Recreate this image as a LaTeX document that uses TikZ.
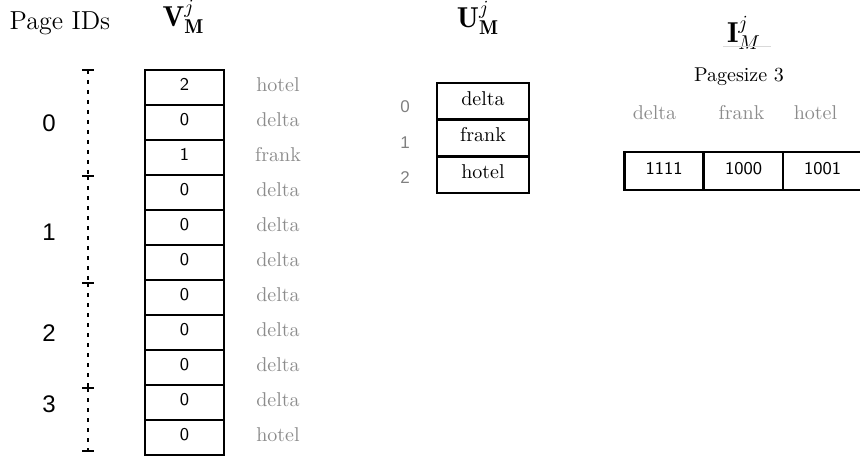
\documentclass[tikz,border=0pt]{standalone}
\usepackage{fontspec}
\newfontfamily\idfont{Liberation Sans}
\begin{document}
\begin{tikzpicture}[x=0.5pt,y=-0.5pt,
  cellbox/.style={draw, line width=1.3pt, inner sep=0pt,
    font=\sffamily\fontsize{9}{10}\selectfont, text height=6.4pt, text depth=3pt},
  vcell/.style={cellbox, minimum width=39.5pt, minimum height=17.5pt},
  icell/.style={cellbox, minimum width=39.5pt, minimum height=19pt},
  ucell/.style={draw, line width=1.3pt, inner sep=0pt, minimum width=46pt,
    minimum height=18.33pt, font=\fontsize{10}{12}\selectfont,
    text height=7pt, text depth=3pt},
  glabel/.style={anchor=base, inner sep=0pt, text=black!45,
    font=\fontsize{10}{12}\selectfont},
  title/.style={anchor=base, inner sep=0pt, font=\fontsize{14.4}{16}\selectfont},
  pageid/.style={anchor=base, inner sep=0pt, font=\idfont\fontsize{12}{14}\selectfont},
  uindex/.style={anchor=base, inner sep=0pt, text=black!50,
    font=\idfont\fontsize{8.5}{10}\selectfont},
  pagerange/.style={line width=1.3pt, dash pattern=on 2pt off 3pt},
  pagetick/.style={line width=1.3pt},
]
\useasboundingbox (0,0) rectangle (860,459);

% headings
\node[anchor=base, inner sep=0pt, font=\fontsize{13}{15}\selectfont] (pid) at (60,30) {Page IDs};
\node[title] (vt) at (183.5,27) {$\mathbf{V}^{j}_{\mathbf{M}}$};
\node[title] (ut) at (478,28) {$\mathbf{U}^{j}_{\mathbf{M}}$};
\node[title] (it) at (744,43) {$\mathbf{I}^{j}_{M}$};
\draw[black!15, line width=0.4pt] (723,46) -- (771,46);

% value column with its words
\foreach \d/\w [count=\i from 0] in {2/hotel,0/delta,1/frank,0/delta,0/delta,0/delta,0/delta,0/delta,0/delta,0/delta,0/hotel} {
  \node[vcell] (v\i) at (184.5,{87.5+35*\i}) {\d};
  \node[glabel] (vw\i) at (278,{91.5+35*\i}) {\w};
}

% page ranges
\coordinate (p0) at (88,70);
\coordinate (p1) at (88,176);
\coordinate (p2) at (88,283);
\coordinate (p3) at (88,388);
\coordinate (p4) at (88,451);
\draw[pagerange] (p0) -- (p1);
\draw[pagerange] (p1) -- (p2);
\draw[pagerange] (p2) -- (p3);
\draw[pagerange] (p3) -- (p4);
\foreach \p in {p0,p1,p2,p3,p4}
  \draw[pagetick] ([xshift=-2.8pt]\p) -- ([xshift=2.8pt]\p);
\node[pageid] (id0) at (49,132) {0};
\node[pageid] (id1) at (49,241) {1};
\node[pageid] (id2) at (49,341) {2};
\node[pageid] (id3) at (49,412) {3};

% unique values
\foreach \w [count=\i from 0] in {delta,frank,hotel} {
  \node[ucell] (u\i) at (483,{101.3+36.67*\i}) {\w};
  \node[uindex] (ui\i) at (405,{113+35.5*\i}) {\i};
}

% page index bitmaps
\node[anchor=base, inner sep=0pt, font=\fontsize{10}{12}\selectfont] (ps) at (739,82) {Pagesize 3};
\node[glabel] (h0) at (654.5,120) {delta};
\node[glabel] (h1) at (741.5,120) {frank};
\node[glabel] (h2) at (815.5,120) {hotel};
\node[icell] (b0) at (664,171) {1111};
\node[icell] (b1) at (743.5,171) {1000};
\node[icell] (b2) at (822.5,171) {1001};
\end{tikzpicture}
\end{document}
